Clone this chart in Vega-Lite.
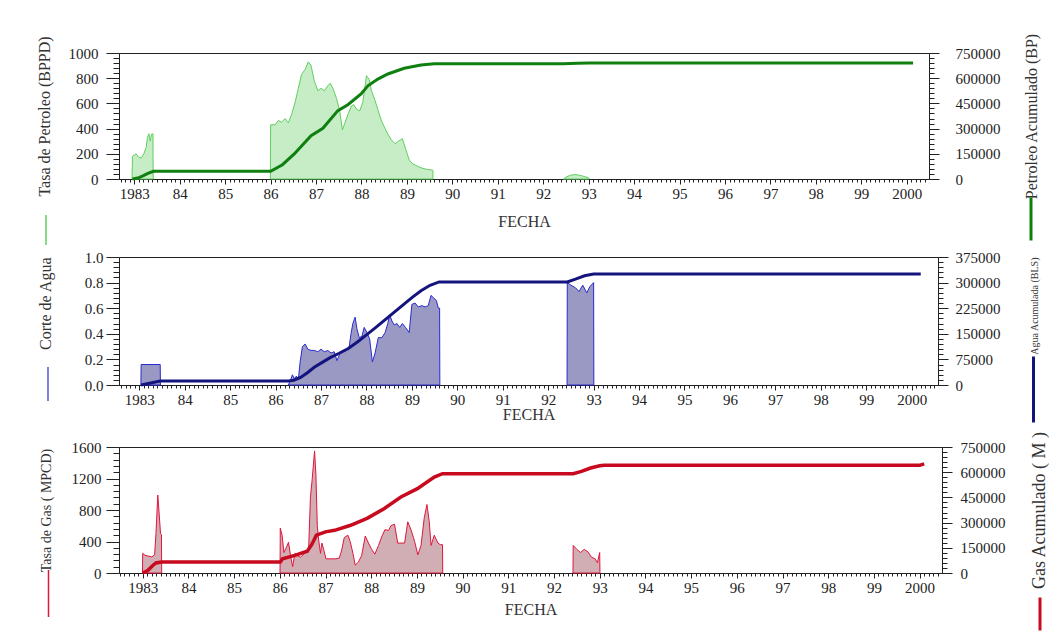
{
"$schema": "https://vega.github.io/schema/vega-lite/v6.json",
"background": "white",
"padding": {"left": 23, "top": 32, "right": 2, "bottom": 2},
"config": {
  "font": "Liberation Serif",
  "view": {"stroke": "#222", "strokeWidth": 1},
  "axis": {"labelFont": "Liberation Serif", "labelFontSize": 15, "labelColor": "#222", "titleFont": "Liberation Serif", "titleFontWeight": "normal", "titleColor": "#333", "domainColor": "#222", "tickColor": "#222", "grid": false, "labelOverlap": false, "labelFlush": false},
  "legend": {"padding": 0, "labelFontSize": 1, "labelOffset": 0}
},
"datasets": {
  "oilRate": [
    {"seg":1,"t":1982.95,"v":0},{"seg":1,"t":1982.96,"v":180},{"seg":1,"t":1983.04,"v":200},{"seg":1,"t":1983.09,"v":175},{"seg":1,"t":1983.15,"v":165},{"seg":1,"t":1983.21,"v":200},{"seg":1,"t":1983.26,"v":250},{"seg":1,"t":1983.29,"v":330},{"seg":1,"t":1983.32,"v":360},{"seg":1,"t":1983.35,"v":300},{"seg":1,"t":1983.38,"v":355},{"seg":1,"t":1983.41,"v":360},{"seg":1,"t":1983.415,"v":0},
    {"seg":2,"t":1985.995,"v":0},{"seg":2,"t":1986.0,"v":430},{"seg":2,"t":1986.1,"v":430},{"seg":2,"t":1986.17,"v":465},{"seg":2,"t":1986.24,"v":450},{"seg":2,"t":1986.32,"v":480},{"seg":2,"t":1986.39,"v":445},{"seg":2,"t":1986.46,"v":510},{"seg":2,"t":1986.54,"v":610},{"seg":2,"t":1986.61,"v":720},{"seg":2,"t":1986.68,"v":830},{"seg":2,"t":1986.76,"v":870},{"seg":2,"t":1986.83,"v":930},{"seg":2,"t":1986.89,"v":900},{"seg":2,"t":1986.96,"v":780},{"seg":2,"t":1987.04,"v":700},{"seg":2,"t":1987.11,"v":720},{"seg":2,"t":1987.18,"v":700},{"seg":2,"t":1987.26,"v":740},{"seg":2,"t":1987.31,"v":760},{"seg":2,"t":1987.37,"v":720},{"seg":2,"t":1987.45,"v":640},{"seg":2,"t":1987.52,"v":540},{"seg":2,"t":1987.58,"v":390},{"seg":2,"t":1987.64,"v":450},{"seg":2,"t":1987.71,"v":520},{"seg":2,"t":1987.78,"v":580},{"seg":2,"t":1987.83,"v":590},{"seg":2,"t":1987.89,"v":555},{"seg":2,"t":1987.96,"v":540},{"seg":2,"t":1988.03,"v":610},{"seg":2,"t":1988.11,"v":820},{"seg":2,"t":1988.17,"v":790},{"seg":2,"t":1988.22,"v":700},{"seg":2,"t":1988.3,"v":620},{"seg":2,"t":1988.37,"v":540},{"seg":2,"t":1988.44,"v":460},{"seg":2,"t":1988.52,"v":400},{"seg":2,"t":1988.59,"v":350},{"seg":2,"t":1988.66,"v":310},{"seg":2,"t":1988.74,"v":280},{"seg":2,"t":1988.81,"v":300},{"seg":2,"t":1988.9,"v":320},{"seg":2,"t":1988.97,"v":240},{"seg":2,"t":1989.05,"v":150},{"seg":2,"t":1989.13,"v":120},{"seg":2,"t":1989.24,"v":100},{"seg":2,"t":1989.34,"v":85},{"seg":2,"t":1989.46,"v":75},{"seg":2,"t":1989.57,"v":70},{"seg":2,"t":1989.575,"v":0},
    {"seg":3,"t":1992.45,"v":0},{"seg":3,"t":1992.5,"v":15},{"seg":3,"t":1992.6,"v":30},{"seg":3,"t":1992.7,"v":35},{"seg":3,"t":1992.8,"v":30},{"seg":3,"t":1992.9,"v":20},{"seg":3,"t":1993.0,"v":10},{"seg":3,"t":1993.01,"v":0}
  ],
  "oilCum": [
    {"t":1982.96,"v":0},{"t":1983.1,"v":8000},{"t":1983.2,"v":20000},{"t":1983.3,"v":33000},{"t":1983.42,"v":46000},{"t":1986.0,"v":46000},{"t":1986.26,"v":85000},{"t":1986.52,"v":149000},{"t":1986.89,"v":258000},{"t":1987.15,"v":302000},{"t":1987.48,"v":407000},{"t":1987.7,"v":442000},{"t":1987.99,"v":506000},{"t":1988.14,"v":555000},{"t":1988.36,"v":595000},{"t":1988.58,"v":625000},{"t":1988.94,"v":659000},{"t":1989.31,"v":678000},{"t":1989.6,"v":686000},{"t":1992.45,"v":686000},{"t":1992.75,"v":689000},{"t":1993.0,"v":691000},{"t":2000.14,"v":691000}
  ],
  "waterRate": [
    {"seg":1,"t":1983.035,"v":0},{"seg":1,"t":1983.04,"v":0.16},{"seg":1,"t":1983.46,"v":0.16},{"seg":1,"t":1983.465,"v":0},
    {"seg":2,"t":1986.28,"v":0},{"seg":2,"t":1986.32,"v":0.03},{"seg":2,"t":1986.37,"v":0.08},{"seg":2,"t":1986.41,"v":0.05},{"seg":2,"t":1986.46,"v":0.07},{"seg":2,"t":1986.5,"v":0.04},{"seg":2,"t":1986.54,"v":0.18},{"seg":2,"t":1986.59,"v":0.3},{"seg":2,"t":1986.65,"v":0.32},{"seg":2,"t":1986.71,"v":0.28},{"seg":2,"t":1986.78,"v":0.27},{"seg":2,"t":1986.85,"v":0.27},{"seg":2,"t":1986.93,"v":0.26},{"seg":2,"t":1987.0,"v":0.28},{"seg":2,"t":1987.07,"v":0.26},{"seg":2,"t":1987.15,"v":0.27},{"seg":2,"t":1987.22,"v":0.25},{"seg":2,"t":1987.29,"v":0.26},{"seg":2,"t":1987.35,"v":0.19},{"seg":2,"t":1987.41,"v":0.24},{"seg":2,"t":1987.48,"v":0.27},{"seg":2,"t":1987.56,"v":0.27},{"seg":2,"t":1987.62,"v":0.3},{"seg":2,"t":1987.66,"v":0.4},{"seg":2,"t":1987.7,"v":0.48},{"seg":2,"t":1987.75,"v":0.53},{"seg":2,"t":1987.79,"v":0.44},{"seg":2,"t":1987.84,"v":0.37},{"seg":2,"t":1987.9,"v":0.38},{"seg":2,"t":1987.95,"v":0.45},{"seg":2,"t":1988.01,"v":0.41},{"seg":2,"t":1988.07,"v":0.36},{"seg":2,"t":1988.13,"v":0.18},{"seg":2,"t":1988.19,"v":0.25},{"seg":2,"t":1988.26,"v":0.37},{"seg":2,"t":1988.34,"v":0.37},{"seg":2,"t":1988.41,"v":0.41},{"seg":2,"t":1988.47,"v":0.48},{"seg":2,"t":1988.51,"v":0.55},{"seg":2,"t":1988.56,"v":0.5},{"seg":2,"t":1988.61,"v":0.47},{"seg":2,"t":1988.67,"v":0.48},{"seg":2,"t":1988.73,"v":0.45},{"seg":2,"t":1988.79,"v":0.48},{"seg":2,"t":1988.86,"v":0.45},{"seg":2,"t":1988.94,"v":0.41},{"seg":2,"t":1989.0,"v":0.63},{"seg":2,"t":1989.07,"v":0.64},{"seg":2,"t":1989.14,"v":0.61},{"seg":2,"t":1989.22,"v":0.62},{"seg":2,"t":1989.29,"v":0.61},{"seg":2,"t":1989.36,"v":0.62},{"seg":2,"t":1989.42,"v":0.7},{"seg":2,"t":1989.48,"v":0.68},{"seg":2,"t":1989.54,"v":0.66},{"seg":2,"t":1989.58,"v":0.6},{"seg":2,"t":1989.61,"v":0.6},{"seg":2,"t":1989.615,"v":0},
    {"seg":3,"t":1992.415,"v":0},{"seg":3,"t":1992.42,"v":0.8},{"seg":3,"t":1992.5,"v":0.78},{"seg":3,"t":1992.6,"v":0.76},{"seg":3,"t":1992.68,"v":0.73},{"seg":3,"t":1992.76,"v":0.78},{"seg":3,"t":1992.85,"v":0.72},{"seg":3,"t":1992.92,"v":0.77},{"seg":3,"t":1993.0,"v":0.8},{"seg":3,"t":1993.005,"v":0}
  ],
  "waterCum": [
    {"t":1983.04,"v":0},{"t":1983.25,"v":6000},{"t":1983.46,"v":11700},{"t":1986.28,"v":11700},{"t":1986.4,"v":14000},{"t":1986.55,"v":22000},{"t":1986.7,"v":36000},{"t":1986.85,"v":52000},{"t":1987.0,"v":64000},{"t":1987.2,"v":80000},{"t":1987.4,"v":93000},{"t":1987.6,"v":107000},{"t":1987.8,"v":126000},{"t":1988.0,"v":147000},{"t":1988.2,"v":168000},{"t":1988.4,"v":190000},{"t":1988.6,"v":212000},{"t":1988.8,"v":234000},{"t":1989.0,"v":256000},{"t":1989.2,"v":276000},{"t":1989.4,"v":292000},{"t":1989.6,"v":302000},{"t":1992.42,"v":302000},{"t":1992.6,"v":310000},{"t":1992.8,"v":320000},{"t":1993.0,"v":325000},{"t":2000.2,"v":325000}
  ],
  "gasRate": [
    {"seg":1,"t":1982.995,"v":0},{"seg":1,"t":1983.0,"v":250},{"seg":1,"t":1983.05,"v":225},{"seg":1,"t":1983.12,"v":215},{"seg":1,"t":1983.2,"v":205},{"seg":1,"t":1983.26,"v":230},{"seg":1,"t":1983.29,"v":500},{"seg":1,"t":1983.33,"v":990},{"seg":1,"t":1983.36,"v":750},{"seg":1,"t":1983.39,"v":500},{"seg":1,"t":1983.41,"v":490},{"seg":1,"t":1983.415,"v":0},
    {"seg":2,"t":1986.005,"v":0},{"seg":2,"t":1986.01,"v":570},{"seg":2,"t":1986.05,"v":480},{"seg":2,"t":1986.09,"v":260},{"seg":2,"t":1986.14,"v":320},{"seg":2,"t":1986.19,"v":390},{"seg":2,"t":1986.23,"v":240},{"seg":2,"t":1986.28,"v":80},{"seg":2,"t":1986.33,"v":250},{"seg":2,"t":1986.39,"v":220},{"seg":2,"t":1986.45,"v":200},{"seg":2,"t":1986.51,"v":230},{"seg":2,"t":1986.57,"v":280},{"seg":2,"t":1986.63,"v":300},{"seg":2,"t":1986.67,"v":960},{"seg":2,"t":1986.71,"v":1200},{"seg":2,"t":1986.76,"v":1550},{"seg":2,"t":1986.79,"v":1250},{"seg":2,"t":1986.82,"v":600},{"seg":2,"t":1986.85,"v":420},{"seg":2,"t":1986.89,"v":250},{"seg":2,"t":1986.92,"v":380},{"seg":2,"t":1986.96,"v":300},{"seg":2,"t":1987.01,"v":180},{"seg":2,"t":1987.12,"v":180},{"seg":2,"t":1987.23,"v":180},{"seg":2,"t":1987.3,"v":190},{"seg":2,"t":1987.35,"v":280},{"seg":2,"t":1987.41,"v":450},{"seg":2,"t":1987.49,"v":480},{"seg":2,"t":1987.54,"v":400},{"seg":2,"t":1987.6,"v":250},{"seg":2,"t":1987.65,"v":100},{"seg":2,"t":1987.72,"v":140},{"seg":2,"t":1987.79,"v":220},{"seg":2,"t":1987.87,"v":470},{"seg":2,"t":1987.94,"v":380},{"seg":2,"t":1988.01,"v":300},{"seg":2,"t":1988.08,"v":240},{"seg":2,"t":1988.16,"v":350},{"seg":2,"t":1988.23,"v":460},{"seg":2,"t":1988.3,"v":550},{"seg":2,"t":1988.38,"v":540},{"seg":2,"t":1988.43,"v":600},{"seg":2,"t":1988.51,"v":620},{"seg":2,"t":1988.58,"v":380},{"seg":2,"t":1988.65,"v":380},{"seg":2,"t":1988.73,"v":380},{"seg":2,"t":1988.8,"v":650},{"seg":2,"t":1988.87,"v":550},{"seg":2,"t":1988.95,"v":400},{"seg":2,"t":1989.02,"v":230},{"seg":2,"t":1989.09,"v":350},{"seg":2,"t":1989.16,"v":700},{"seg":2,"t":1989.22,"v":870},{"seg":2,"t":1989.27,"v":650},{"seg":2,"t":1989.31,"v":350},{"seg":2,"t":1989.38,"v":480},{"seg":2,"t":1989.46,"v":380},{"seg":2,"t":1989.51,"v":360},{"seg":2,"t":1989.56,"v":360},{"seg":2,"t":1989.565,"v":0},
    {"seg":3,"t":1992.415,"v":0},{"seg":3,"t":1992.42,"v":350},{"seg":3,"t":1992.5,"v":300},{"seg":3,"t":1992.58,"v":260},{"seg":3,"t":1992.66,"v":300},{"seg":3,"t":1992.74,"v":270},{"seg":3,"t":1992.82,"v":200},{"seg":3,"t":1992.9,"v":180},{"seg":3,"t":1992.95,"v":130},{"seg":3,"t":1993.0,"v":260},{"seg":3,"t":1993.005,"v":0}
  ],
  "gasCum": [
    {"t":1983.0,"v":0},{"t":1983.11,"v":15000},{"t":1983.22,"v":45000},{"t":1983.29,"v":60000},{"t":1983.41,"v":65500},{"t":1986.01,"v":65500},{"t":1986.06,"v":85000},{"t":1986.33,"v":105000},{"t":1986.6,"v":130000},{"t":1986.7,"v":170000},{"t":1986.8,"v":225000},{"t":1987.0,"v":245000},{"t":1987.2,"v":254000},{"t":1987.55,"v":284000},{"t":1987.92,"v":327000},{"t":1988.28,"v":383000},{"t":1988.65,"v":452000},{"t":1989.01,"v":502000},{"t":1989.38,"v":571000},{"t":1989.56,"v":591000},{"t":1992.42,"v":591000},{"t":1992.6,"v":605000},{"t":1992.8,"v":625000},{"t":1993.0,"v":638000},{"t":1993.1,"v":641000},{"t":2000.0,"v":641000},{"t":2000.1,"v":650000}
  ]
},
"spacing": 0,
"resolve": {"scale": {"x": "independent", "y": "independent", "color": "independent", "stroke": "independent"}, "legend": {"color": "independent", "stroke": "independent"}},
"vconcat": [
  {
    "width": 810, "height": 126,
    "resolve": {"scale": {"y": "independent"}},
    "layer": [
      {
        "data": {"name": "oilRate"},
        "mark": {"type": "area", "fill": "#8fdc8f", "fillOpacity": 0.5, "strokeWidth": 1},
        "encoding": {
          "x": {"field": "t", "type": "quantitative", "scale": {"domain": [1982.663, 2000.49], "nice": false, "zero": false},
                "axis": {"title": "FECHA", "titleFontSize": 16, "titlePadding": 12, "tickCount": 180, "labelPadding": 2,
                         "labelExpr": "datum.value % 1 === 0 ? ((datum.value === 1983 || datum.value === 2000) ? '' + datum.value : substring('' + datum.value, 2, 4)) : ''",
                         "tickSize": {"condition": {"test": "datum.value % 1 === 0", "value": 5}, "value": 3}}},
          "y": {"field": "v", "type": "quantitative", "stack": null, "scale": {"domain": [0, 1000], "nice": false},
                "axis": {"title": "Tasa de Petroleo (BPPD)", "titleFontSize": 16, "titlePadding": 16, "labelPadding": 8, "format": "d",
                         "values": [0,40,80,120,160,200,240,280,320,360,400,440,480,520,560,600,640,680,720,760,800,840,880,920,960,1000],
                         "labelExpr": "datum.value % 200 === 0 ? datum.label : ''",
                         "tickSize": {"condition": {"test": "datum.value % 200 === 0", "value": 13}, "value": 6}}},
          "detail": {"field": "seg"},
          "stroke": {"datum": "Tasa de Petroleo", "scale": {"range": ["#5fcf5f"]},
                     "legend": {"orient": "none", "legendX": -89, "legendY": 161, "title": null, "labelExpr": "''", "symbolType": "M0,-1L0,1", "symbolSize": 900, "symbolStrokeWidth": 1.5}}
        }
      },
      {
        "data": {"name": "oilCum"},
        "mark": {"type": "line", "strokeWidth": 3},
        "encoding": {
          "x": {"field": "t", "type": "quantitative"},
          "y": {"field": "v", "type": "quantitative", "scale": {"domain": [0, 750000], "nice": false},
                "axis": {"orient": "right", "title": "Petroleo Acumulado (BP)", "titleFontSize": 16, "titleAngle": 270, "titleBaseline": "top", "titlePadding": 23, "labelPadding": 16, "format": "d",
                         "values": [0,30000,60000,90000,120000,150000,180000,210000,240000,270000,300000,330000,360000,390000,420000,450000,480000,510000,540000,570000,600000,630000,660000,690000,720000,750000],
                         "labelExpr": "datum.value % 150000 === 0 ? datum.label : ''",
                         "tickSize": {"condition": {"test": "datum.value % 150000 === 0", "value": 10}, "value": 5}}},
          "color": {"datum": "Petroleo Acumulado", "scale": {"range": ["#0f7f0f"]},
                    "legend": {"orient": "none", "legendX": 889, "legendY": 143, "title": null, "labelExpr": "''", "symbolType": "M0,-1L0,1", "symbolSize": 1849, "symbolStrokeWidth": 3}}
        }
      }
    ]
  },
  {
    "width": 819, "height": 128,
    "resolve": {"scale": {"y": "independent"}},
    "layer": [
      {
        "data": {"name": "waterRate"},
        "mark": {"type": "area", "fill": "#34348a", "fillOpacity": 0.5, "strokeWidth": 1},
        "encoding": {
          "x": {"field": "t", "type": "quantitative", "scale": {"domain": [1982.553, 2000.58], "nice": false, "zero": false},
                "axis": {"title": "FECHA", "titleFontSize": 16, "titlePadding": -1, "tickCount": 180, "labelPadding": 2,
                         "labelExpr": "datum.value % 1 === 0 ? ((datum.value === 1983 || datum.value === 2000) ? '' + datum.value : substring('' + datum.value, 2, 4)) : ''",
                         "tickSize": {"condition": {"test": "datum.value % 1 === 0", "value": 5}, "value": 3}}},
          "y": {"field": "v", "type": "quantitative", "stack": null, "scale": {"domain": [0, 1], "nice": false},
                "axis": {"title": "Corte de Agua", "titleFontSize": 16, "titleAnchor": "end", "titlePadding": 31, "labelPadding": 3, "format": ".1f",
                         "values": [0,0.04,0.08,0.12,0.16,0.2,0.24,0.28,0.32,0.36,0.4,0.44,0.48,0.52,0.56,0.6,0.64,0.68,0.72,0.76,0.8,0.84,0.88,0.92,0.96,1],
                         "labelExpr": "abs(datum.value * 5 - round(datum.value * 5)) < 0.001 ? datum.label : ''",
                         "tickSize": {"condition": {"test": "abs(datum.value * 5 - round(datum.value * 5)) < 0.001", "value": 13}, "value": 6}}},
          "detail": {"field": "seg"},
          "stroke": {"datum": "Corte de Agua", "scale": {"range": ["#2a2ad0"]},
                     "legend": {"orient": "none", "legendX": -89, "legendY": 109, "title": null, "labelExpr": "''", "symbolType": "M0,-1L0,1", "symbolSize": 1156, "symbolStrokeWidth": 1.2}}
        }
      },
      {
        "data": {"name": "waterCum"},
        "mark": {"type": "line", "strokeWidth": 3},
        "encoding": {
          "x": {"field": "t", "type": "quantitative"},
          "y": {"field": "v", "type": "quantitative", "scale": {"domain": [0, 375000], "nice": false},
                "axis": {"orient": "right", "title": "Agua Acumulada (BLS)", "titleFontSize": 10, "titleAngle": 270, "titleBaseline": "top", "titleAnchor": "end", "titlePadding": 29, "labelPadding": 7, "format": "d",
                         "values": [0,15000,30000,45000,60000,75000,90000,105000,120000,135000,150000,165000,180000,195000,210000,225000,240000,255000,270000,285000,300000,315000,330000,345000,360000,375000],
                         "labelExpr": "datum.value % 75000 === 0 ? datum.label : ''",
                         "tickSize": {"condition": {"test": "datum.value % 75000 === 0", "value": 10}, "value": 5}}},
          "color": {"datum": "Agua Acumulada", "scale": {"range": ["#14147e"]},
                    "legend": {"orient": "none", "legendX": 880, "legendY": 98, "title": null, "labelExpr": "''", "symbolType": "M0,-1L0,1", "symbolSize": 4356, "symbolStrokeWidth": 3}}
        }
      }
    ]
  },
  {
    "width": 823, "height": 126,
    "resolve": {"scale": {"y": "independent"}},
    "layer": [
      {
        "data": {"name": "gasRate"},
        "mark": {"type": "area", "fill": "#9a4a58", "fillOpacity": 0.45, "strokeWidth": 1},
        "encoding": {
          "x": {"field": "t", "type": "quantitative", "scale": {"domain": [1982.481, 2000.49], "nice": false, "zero": false},
                "axis": {"title": "FECHA", "titleFontSize": 16, "titlePadding": 6, "tickCount": 180, "labelPadding": 2,
                         "labelExpr": "datum.value % 1 === 0 ? ((datum.value === 1983 || datum.value === 2000) ? '' + datum.value : substring('' + datum.value, 2, 4)) : ''",
                         "tickSize": {"condition": {"test": "datum.value % 1 === 0", "value": 5}, "value": 3}}},
          "y": {"field": "v", "type": "quantitative", "stack": null, "scale": {"domain": [0, 1600], "nice": false},
                "axis": {"title": "Tasa de Gas ( MPCD)", "titleFontSize": 14, "titlePadding": 18, "labelPadding": 5, "format": "d",
                         "values": [0,80,160,240,320,400,480,560,640,720,800,880,960,1040,1120,1200,1280,1360,1440,1520,1600],
                         "labelExpr": "datum.value % 400 === 0 ? datum.label : ''",
                         "tickSize": {"condition": {"test": "datum.value % 400 === 0", "value": 13}, "value": 6}}},
          "detail": {"field": "seg"},
          "stroke": {"datum": "Tasa de Gas", "scale": {"range": ["#e0163c"]},
                     "legend": {"orient": "none", "legendX": -95, "legendY": 122, "title": null, "labelExpr": "''", "symbolType": "M0,-1L0,1", "symbolSize": 2209, "symbolStrokeWidth": 1.5}}
        }
      },
      {
        "data": {"name": "gasCum"},
        "mark": {"type": "line", "strokeWidth": 3.5},
        "encoding": {
          "x": {"field": "t", "type": "quantitative"},
          "y": {"field": "v", "type": "quantitative", "scale": {"domain": [0, 750000], "nice": false},
                "axis": {"orient": "right", "title": "Gas Acumulado ( M )", "titleFontSize": 18, "titleAngle": 270, "titleBaseline": "top", "titlePadding": 25, "labelPadding": 8, "format": "d",
                         "values": [0,30000,60000,90000,120000,150000,180000,210000,240000,270000,300000,330000,360000,390000,420000,450000,480000,510000,540000,570000,600000,630000,660000,690000,720000,750000],
                         "labelExpr": "datum.value % 150000 === 0 ? datum.label : ''",
                         "tickSize": {"condition": {"test": "datum.value % 150000 === 0", "value": 10}, "value": 5}}},
          "color": {"datum": "Gas Acumulado", "scale": {"range": ["#c80a1e"]},
                    "legend": {"orient": "none", "legendX": 903, "legendY": 149, "title": null, "labelExpr": "''", "symbolType": "M0,-1L0,1", "symbolSize": 1089, "symbolStrokeWidth": 3}}
        }
      }
    ]
  }
]
}
